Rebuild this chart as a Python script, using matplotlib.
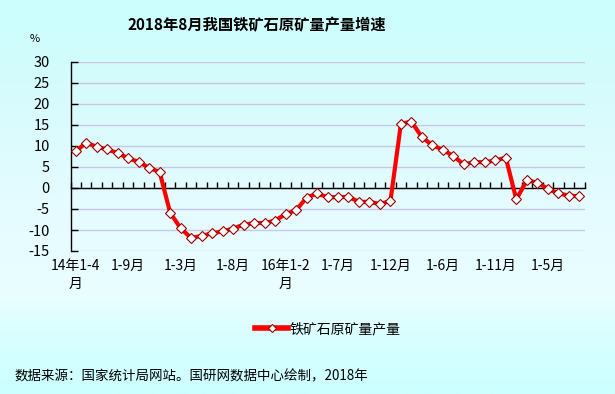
import numpy as np
import matplotlib
matplotlib.use('Agg')
import matplotlib.pyplot as plt
from matplotlib.lines import Line2D
from matplotlib.colors import LinearSegmentedColormap

plt.rcParams['font.family'] = ['Noto Sans CJK SC', 'DejaVu Sans']
plt.rcParams['axes.unicode_minus'] = False

# 铁矿石原矿量产量累计增速 (%), 2014年1-4月 ~ 2018年1-8月
growth = [8.7, 10.8, 9.8, 9.2, 8.3, 7.1, 6.2, 4.8, 3.8,
          -5.9, -9.6, -11.9, -11.4, -10.8, -10.3, -9.7, -8.7, -8.4, -8.3, -7.8,
          -6.2, -5.3, -2.3, -1.3, -2.2, -2.2, -2.1, -3.3, -3.3, -3.8, -3.1,
          15.3, 15.8, 12.1, 10.2, 9.1, 7.6, 5.6, 6.2, 6.1, 6.6, 7.2,
          -2.7, 1.8, 1.3, -0.2, -1.3, -1.8, -2.0]
xtick_labels = ['14年1-4\n月', '1-9月', '1-3月', '1-8月', '16年1-2\n月',
                '1-7月', '1-12月', '1-6月', '1-11月', '1-5月']
yticks = [-15, -10, -5, 0, 5, 10, 15, 20, 25, 30]

title = '2018年8月我国铁矿石原矿量产量增速'
series_name = '铁矿石原矿量产量'
source = '数据来源：国家统计局网站。国研网数据中心绘制，2018年'

fig = plt.figure(figsize=(6.15, 3.94), dpi=100)

# background gradient
bg = fig.add_axes([0, 0, 1, 1], zorder=-10)
cmap = LinearSegmentedColormap.from_list('bg', [
    (0.0, '#ccffff'), (0.15, '#d2fcfc'), (0.5, '#e4fbff'),
    (0.75, '#eafeff'), (0.86, '#d8ffff'), (1.0, '#ccffff')])
bg.imshow(np.linspace(0, 1, 256).reshape(-1, 1), aspect='auto', cmap=cmap)
bg.axis('off')

ax = fig.add_axes([70.5 / 615, 1 - 251 / 394, 514 / 615, 189 / 394])
ax.set_facecolor('none')
x = np.arange(len(growth))
ax.plot(x, growth, color='#ff0000', lw=3, marker='D', ms=5.5,
        mfc='white', mec='#990000', mew=0.8, zorder=3, clip_on=False)

ax.set_xlim(-0.5, len(growth) - 0.5)
ax.set_ylim(yticks[0], yticks[-1])
ax.set_yticks(yticks)
ax.yaxis.grid(True, color='#c8c8e6', lw=1)
ax.set_axisbelow(True)

for s in ['top', 'right']:
    ax.spines[s].set_visible(False)
ax.spines['bottom'].set_position(('data', 0))
ax.spines['bottom'].set_linewidth(1)
ax.spines['left'].set_linewidth(1)
ax.set_xticks(np.arange(len(growth) + 1) - 0.5)
ax.tick_params(axis='x', direction='in', length=4, width=1, labelbottom=False)
ax.tick_params(axis='y', direction='in', length=5, width=1, pad=15, labelsize=10.5)

sec = ax.secondary_xaxis('bottom')
sec.set_xticks(list(range(0, len(growth), 5)), labels=xtick_labels)
sec.tick_params(length=0, pad=6, labelsize=10)
sec.spines['bottom'].set_visible(False)
for lab in sec.get_xticklabels():
    lab.set_linespacing(1.3)

fig.text(257 / 615, 1 - 25 / 394, title, ha='center', va='center',
         fontsize=11, fontweight='bold')
fig.text(35 / 615, 1 - 39 / 394, '%', ha='center', va='center', fontsize=8)

handle = Line2D([], [], color='#ff0000', lw=4, marker='D', ms=4,
                mfc='white', mec='#990000', mew=0.8)
fig.legend(handles=[handle], labels=[series_name], loc='center',
           bbox_to_anchor=(328 / 615, 1 - 329 / 394), frameon=False,
           fontsize=10, handlelength=2.4, handletextpad=0.1)

fig.text(14 / 615, 1 - 376 / 394, source, ha='left', va='center', fontsize=9.7)

fig.savefig('out.png', dpi=100)
